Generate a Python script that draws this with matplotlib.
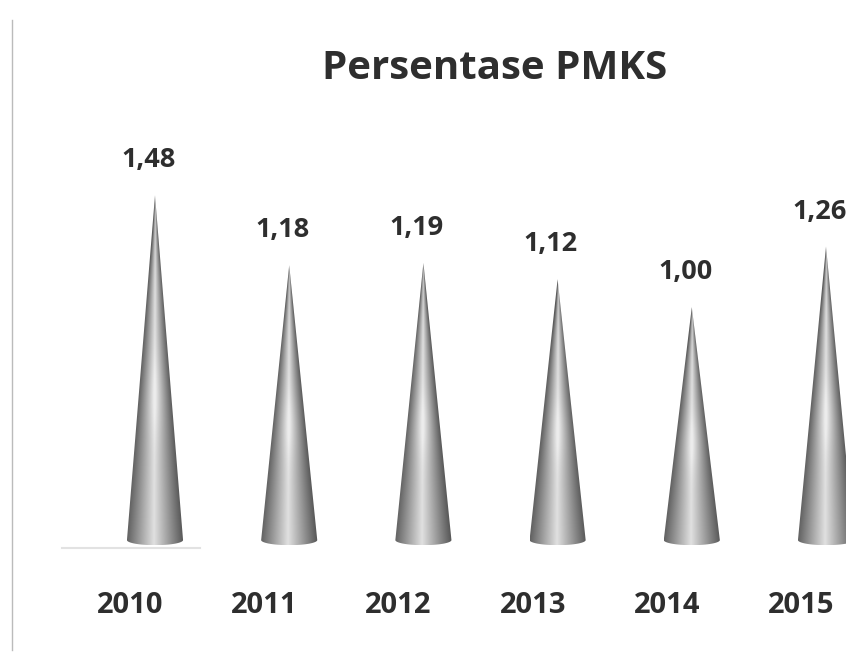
import numpy as np
import matplotlib
matplotlib.use("Agg")
import matplotlib.pyplot as plt
from matplotlib.patches import Polygon
from matplotlib.lines import Line2D

years = ["2010", "2011", "2012", "2013", "2014", "2015"]
values = [1.48, 1.18, 1.19, 1.12, 1.00, 1.26]
value_labels = ["1,48", "1,18", "1,19", "1,12", "1,00", "1,26"]
title = "Persentase PMKS"

plt.rcParams['font.family'] = ['Open Sans', 'DejaVu Sans']
fig = plt.figure(figsize=(8.46, 6.54), dpi=100)
ax = fig.add_axes([0, 0, 1, 1])
ax.set_xlim(-1.155, 5.149)
ax.set_ylim(-0.489, 2.318)
ax.axis('off')

half_w = 0.209
ell = 0.022
text_col = "#2e2e2e"

for i, v in enumerate(values):
    xc = i
    t = np.linspace(np.pi, 2 * np.pi, 40)
    arc_x = xc + half_w * np.cos(t)
    arc_y = ell * np.sin(t)
    pts = [(xc, v)] + list(zip(arc_x, arc_y))
    poly = Polygon(pts, closed=True, facecolor='none', edgecolor='none')
    ax.add_patch(poly)
    nx, ny = 120, 300
    xs = np.linspace(xc - half_w, xc + half_w, nx)
    ys = np.linspace(-ell, v, ny)
    X, Y = np.meshgrid(xs, ys)
    frac = np.clip(1 - Y / v, 0.02, 1)
    u = (X - xc) / (half_w * frac)
    u = np.clip(u, -1, 1)
    g = 0.36 + 0.52 * (1 - np.abs(u + 0.05)) ** 1.0
    h = Y / v
    g = g + 0.08 * np.exp(-((h - 0.42) / 0.12) ** 2) * (1 - np.abs(u))
    g = g - 0.05 * np.exp(-((h - 0.9) / 0.1) ** 2)
    g = np.clip(g, 0, 0.93)
    rgb = np.dstack([g, g, g])
    im = ax.imshow(rgb, extent=(xc - half_w, xc + half_w, -ell, v),
                   origin='lower', aspect='auto', interpolation='bilinear', zorder=2)
    im.set_clip_path(poly)
    ax.text(xc - 0.05, v + 0.15, value_labels[i], ha='center', va='center',
            fontsize=19.5, fontweight='bold', color=text_col)
    ax.text(xc - 0.185, -0.28, years[i], ha='center', va='center',
            fontsize=21, fontweight='bold', color=text_col)

fig.text(0.585, 0.895, title, ha='center', va='center', fontsize=29,
         fontweight='bold', color=text_col)

fig.add_artist(Line2D([12/846, 12/846], [1 - 20/654, 1 - 650/654],
                      transform=fig.transFigure, color='#bbbbbb', lw=1))
fig.add_artist(Line2D([62/846, 200/846], [1 - 548/654, 1 - 548/654],
                      transform=fig.transFigure, color='#e2e2e2', lw=1.5))

fig.savefig("out.png", dpi=100, facecolor='white')
